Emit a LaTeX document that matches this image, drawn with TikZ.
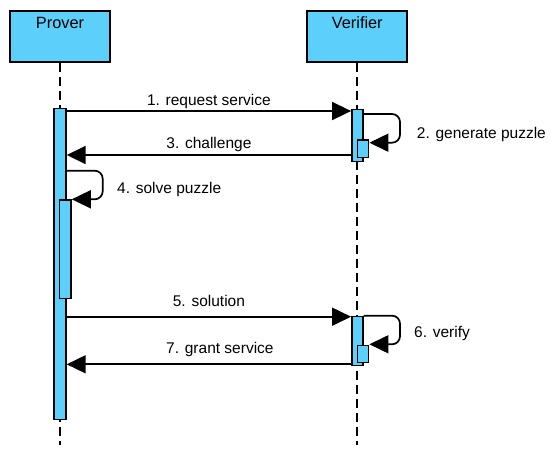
\documentclass[tikz,border=0pt]{standalone}
\usepackage{fontspec}
\setmainfont{Liberation Sans}
\usetikzlibrary{arrows.meta}
\definecolor{actblue}{RGB}{92,207,250}
\tikzstyle{actor} = [draw=black, fill=actblue, line width=1.8pt, rectangle,
    minimum width=100pt, inner ysep=0pt, text height=18pt, text depth=33pt,
    anchor=north, font=\fontsize{16.3}{19}\selectfont]
\tikzstyle{bar} = [draw=black, fill=actblue, line width=1.4pt, rectangle,
    minimum width=11pt, inner sep=0pt, anchor=north]
\tikzstyle{lifeline} = [line width=1.7pt, dash pattern=on 9pt off 5pt]
\tikzstyle{msg} = [line width=1.7pt, -{Triangle[length=19pt,width=18pt]}]
\tikzstyle{msglabel} = [anchor=base, inner sep=0pt, font=\fontsize{15.5}{18}\selectfont]
\tikzstyle{selflabel} = [anchor=base west, inner sep=0pt, font=\fontsize{15.5}{18}\selectfont]

\begin{document}
\begin{tikzpicture}[x=1pt,y=-1pt]
                \useasboundingbox (0,0) rectangle (550,453);
                % actors and lifelines
                \node [actor] (prover) at (60,10) {Prover};
                \node [actor] (verifier) at (357.3,10) {Verifier};
                \coordinate (pend) at (60,445);
                \draw [lifeline] (prover.south) -- (prover.south |- pend);
                \draw [lifeline] (verifier.south) -- (verifier.south |- pend);
                % activations
                \node [bar, minimum width=12pt, minimum height=311pt] (pact) at (60,108) {};
                \node [bar, minimum width=11.7pt, minimum height=98.4pt] (pnest) at (65.2,199.3) {};
                \node [bar, minimum height=51.7pt] (vact1) at (357.3,109) {};
                \node [bar, minimum height=17.4pt] (vnest1) at (363.2,139.3) {};
                \node [bar, minimum height=49.3pt] (vact2) at (357.3,315.7) {};
                \node [bar, minimum height=16.7pt] (vnest2) at (363.2,345) {};
                % messages
                \draw [msg] (pact.east |- 0,111) -- (vact1.west |- 0,111)
                    node [msglabel, midway, yshift=6pt] {1. request service};
                \draw [msg, rounded corners=8pt] (vact1.east |- 0,114) -- (400,114) -- (400,142.7) -- (vnest1.east |- 0,142.7);
                \node [selflabel] (lbl2) at (416.7,138.3) {2. generate puzzle};
                \draw [msg] (vact1.west |- 0,155) -- (pact.east |- 0,155)
                    node [msglabel, midway, yshift=6.7pt] {3. challenge};
                \draw [msg, rounded corners=8pt] (pact.east |- 0,170.7) -- (102.7,170.7) -- (102.7,199.3) -- (pnest.east |- 0,199.3);
                \node [selflabel] (lbl4) at (117,193.3) {4. solve puzzle};
                \draw [msg] (pact.east |- 0,316.7) -- (vact2.west |- 0,316.7)
                    node [msglabel, midway, yshift=10pt] {5. solution};
                \draw [msg, rounded corners=8pt] (vact2.east |- 0,315.7) -- (400,315.7) -- (400,344.3) -- (vnest2.east |- 0,344.3);
                \node [selflabel] (lbl6) at (414,337.3) {6. verify};
                \draw [msg] (vact2.west |- 0,364.3) -- (pact.east |- 0,364.3)
                    node [msglabel, midway, yshift=11pt, xshift=11pt] {7. grant service};
            \end{tikzpicture}
\end{document}
